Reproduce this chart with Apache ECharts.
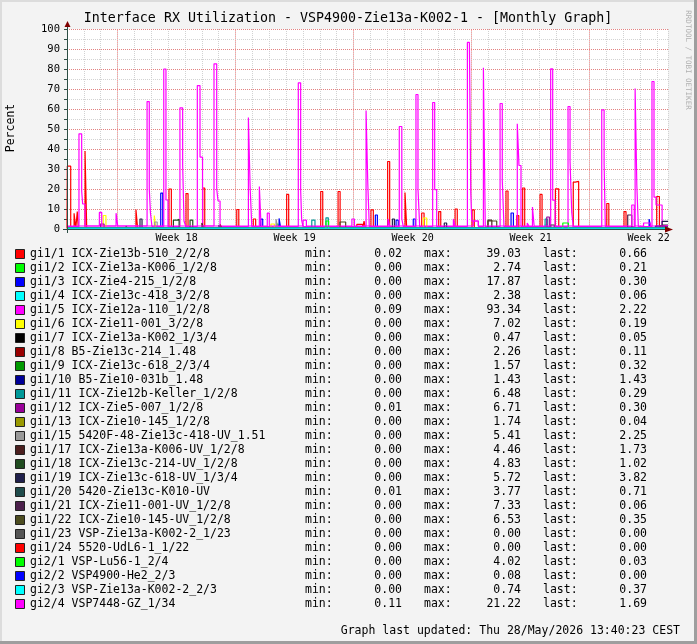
<!DOCTYPE html>
<html><head><meta charset="utf-8">
<script src="https://cdn.jsdelivr.net/npm/echarts@6/dist/echarts.min.js"></script>
<style>html,body{margin:0;padding:0;background:#f3f3f3}#c{width:697px;height:644px}</style>
</head><body><div id="c"></div><script>
// ---------- data (x = days from left edge of plot) ----------
const weekPos = [6.5, 13.5, 20.5, 27.5, 34.5];
const weekLabels = ['Week 18', 'Week 19', 'Week 20', 'Week 21', 'Week 22'];
const majorDays = [3, 10, 17, 24, 31];
const yMajor = [10, 20, 30, 40, 50, 60, 70, 80, 90, 100];

const names = ['gi1/1 ICX-Zie13b-510_2/2/8','gi1/2 ICX-Zie13a-K006_1/2/8','gi1/3 ICX-Zie4-215_1/2/8','gi1/4 ICX-Zie13c-418_3/2/8','gi1/5 ICX-Zie12a-110_1/2/8','gi1/6 ICX-Zie11-001_3/2/8','gi1/7 ICX-Zie13a-K002_1/3/4','gi1/8 B5-Zie13c-214_1.48','gi1/9 ICX-Zie13c-618_2/3/4','gi1/10 B5-Zie10-031b_1.48','gi1/11 ICX-Zie12b-Keller_1/2/8','gi1/12 ICX-Zie5-007_1/2/8','gi1/13 ICX-Zie10-145_1/2/8','gi1/15 5420F-48-Zie13c-418-UV_1.51','gi1/17 ICX-Zie13a-K006-UV_1/2/8','gi1/18 ICX-Zie13c-214-UV_1/2/8','gi1/19 ICX-Zie13c-618-UV_1/3/4','gi1/20 5420-Zie13c-K010-UV','gi1/21 ICX-Zie11-001-UV_1/2/8','gi1/22 ICX-Zie10-145-UV_1/2/8','gi1/23 VSP-Zie13a-K002-2_1/23','gi1/24 5520-UdL6-1_1/22','gi2/1 VSP-Lu56-1_2/4','gi2/2 VSP4900-He2_2/3','gi2/3 VSP-Zie13a-K002-2_2/3','gi2/4 VSP7448-GZ_1/34'];
const colors = ['#FF0000','#00FF00','#0000FF','#00FFFF','#FF00FF','#FFFF00','#000000','#990000','#009900','#000099','#009999','#990099','#999900','#999999','#4C2020','#204C20','#20204C','#204C4C','#4C204C','#4C4C20','#555555','#FF0000','#00FF00','#0000FF','#00FFFF','#FF00FF'];
const minVals = ['0.02','0.00','0.00','0.00','0.09','0.00','0.00','0.00','0.00','0.00','0.00','0.01','0.00','0.00','0.00','0.00','0.00','0.01','0.00','0.00','0.00','0.00','0.00','0.00','0.00','0.11'];
const maxVals = ['39.03','2.74','17.87','2.38','93.34','7.02','0.47','2.26','1.57','1.43','6.48','6.71','1.74','5.41','4.46','4.83','5.72','3.77','7.33','6.53','0.00','0.00','4.02','0.08','0.74','21.22'];
const lastVals = ['0.66','0.21','0.30','0.06','2.22','0.19','0.05','0.11','0.32','1.43','0.29','0.30','0.04','2.25','1.73','1.02','3.82','0.71','0.06','0.35','0.00','0.00','0.03','0.00','0.37','1.69'];

const gi1_1 = [[0,0.3],[0.02,31.4],[0.22,0.3],[0.42,7.9],[0.52,0.3],[0.61,8.7],[0.67,0.3],[1.07,39],[1.17,0.3],[4.09,9.75],[4.19,0.3],[6.05,20],[6.19,0.3],[7.06,17.7],[7.18,0.3],[8.05,20.5],[8.17,0.3],[10.07,9.75],[10.19,0.3],[11.05,5],[11.19,0.3],[13.03,17.3],[13.15,0.3],[15.05,18.75],[15.17,0.3],[16.08,18.75],[16.2,0.3],[17.19,2.3],[17.54,0.3],[17.62,3.9],[17.7,0.3],[18.03,9.6],[18.17,0.3],[19.02,33.75],[19.14,0.3],[20.05,18.2],[20.15,0.3],[21.04,8],[21.18,0.3],[22.05,8.7],[22.17,0.3],[23.02,10],[23.15,0.3],[24.03,9.6],[24.16,0.3],[26.04,19],[26.16,0.3],[26.68,6.7],[26.8,0.3],[27.03,20.5],[27.15,0.3],[28.06,17.3],[28.18,0.3],[28.97,20.1],[29.17,0.3],[30.03,23.4],[30.15,23.8],[30.35,0.3],[32.02,12.75],[32.14,0.3],[33.04,8.7],[33.16,0.3],[34.98,16.25],[35.14,0.66],[35.65,0.66]];
const gi1_2 = [[0,0.2],[5.2,2.5],[5.3,0.2],[12.5,2.7],[12.6,0.2],[22.4,2],[22.5,0.2],[35.65,0.21]];
const gi1_3 = [[0,0.2],[5.56,17.9],[5.68,0.2],[11.49,4.9],[11.61,0.2],[12.58,5.3],[12.68,0.2],[18.29,7],[18.41,0.2],[19.52,4.4],[19.65,0.2],[20.54,5],[20.66,0.2],[26.34,8],[26.48,0.2],[34.53,5],[34.63,0.3],[35.65,0.3]];
const gi1_4 = [[0,0.1],[14.5,2],[14.6,0.1],[28.36,2.3],[28.45,0.1],[35.65,0.06]];
const gi1_5 = [[0,1.2],[0.71,47.6],[0.87,19],[0.93,12.5],[1.07,1.5],[4.75,63.7],[4.88,20.1],[4.95,8],[5.04,1.3],[5.74,80],[5.87,14.5],[5.99,1.2],[6.7,60.6],[6.86,32],[6.94,4],[7.05,1.2],[7.73,71.7],[7.89,35.9],[8.04,1.5],[8.72,82.6],[8.88,20],[8.96,14],[9.08,1.2],[10.76,55.75],[10.86,21.6],[10.96,1.2],[13.72,73.1],[13.86,19.5],[13.92,4.4],[14.0,1.2],[17.74,59.25],[17.84,23.4],[17.93,1.2],[19.71,51.25],[19.86,5],[19.95,1.2],[20.7,67.25],[20.82,20],[20.92,1.2],[21.69,63.25],[21.81,19.7],[21.93,1.2],[23.75,93.3],[23.87,92],[23.95,18],[24.01,4],[24.4,1.2],[24.7,80.6],[24.81,1.2],[25.69,62.75],[25.82,24.25],[25.92,1.2],[26.71,52.6],[26.81,31.75],[26.93,1.2],[28.69,80.1],[28.81,14.4],[28.95,1.2],[29.72,61.25],[29.84,33.9],[29.94,8.3],[30.03,1.2],[31.72,59.6],[31.86,32.9],[31.93,1.2],[33.7,70.25],[33.8,22.1],[33.89,1.2],[34.7,73.75],[34.82,15.9],[34.94,12],[35.3,2.22],[35.65,2.22]];
const gi1_6 = [[0,0.2],[2.15,6.75],[2.31,0.2],[5.18,6.7],[5.26,0.2],[12.1,2.5],[12.3,0.2],[21.14,5.5],[21.34,0.2],[35.65,0.19]];
const gi1_7 = [[0,0.1],[4.3,0.47],[4.4,0.1],[35.65,0.05]];
const gi1_8 = [[0,0.1],[9.1,2.2],[9.2,0.1],[35.65,0.11]];
const gi1_9 = [[0,0.3],[3.5,1.5],[3.6,0.3],[35.65,0.32]];
const gi1_10 = [[0,0.2],[34.9,1.43],[35.65,1.43]];
const gi1_11 = [[0,0.3],[14.52,4.4],[14.71,0.3],[15.36,5.6],[15.5,0.3],[28.36,5],[28.49,0.3],[35.65,0.29]];
const gi1_12 = [[0,0.3],[2.0,2.5],[2.2,0.3],[28.46,6],[28.61,0.3],[35.65,0.3]];
const gi1_13 = [[0,0.1],[16.2,1.7],[16.3,0.1],[35.65,0.04]];
const gi1_15 = [[0,0.3],[5.2,3.5],[5.35,0.3],[12.4,5],[12.5,0.3],[35.3,2.25],[35.65,2.25]];
const gi1_17 = [[0,0.4],[8.0,3],[8.1,0.4],[24.97,4.4],[25.2,0.4],[35.2,1.73],[35.65,1.73]];
const gi1_18 = [[0,0.3],[6.31,4.4],[6.51,4.8],[6.65,0.3],[7.3,4.4],[7.46,0.3],[28.7,2],[28.9,0.3],[35.2,1.02],[35.65,1.02]];
const gi1_19 = [[0,0.3],[4.33,5],[4.45,0.3],[19.3,5],[19.42,0.3],[22.38,3],[22.52,0.3],[35.3,3.82],[35.65,3.82]];
const gi1_20 = [[0,0.5],[9.0,2],[9.1,0.5],[35.65,0.71]];
const gi1_21 = [[0,0.2],[33.26,7],[33.5,0.2],[35.65,0.06]];
const gi1_22 = [[0,0.3],[16.19,3.5],[16.53,0.3],[24.97,4],[25.49,0.3],[35.65,0.35]];
const gi1_23 = [[0,0],[35.65,0]];
const gi1_24 = [[0,0],[35.65,0]];
const gi2_1 = [[0,0.1],[15.36,4],[15.52,0.1],[29.41,3],[29.74,0.1],[35.65,0.03]];
const gi2_2 = [[0,0],[35.65,0]];
const gi2_3 = [[0,0.4],[35.65,0.37]];
const gi2_4 = [[0,1.5],[1.92,8.3],[2.06,1.5],[2.91,7.9],[3.01,1.5],[11.41,21.2],[11.51,1.5],[11.88,7.9],[12.0,1.5],[14.0,4.4],[14.2,1.5],[16.9,5],[17.05,1.5],[19.04,5],[19.14,1.5],[22.92,5],[23.02,1.5],[24.1,4],[24.4,1.5],[27.3,3],[27.4,1.5],[27.61,11],[27.71,1.5],[33.5,12],[33.65,1.5],[34.2,3],[34.6,1.5],[35.3,1.69],[35.65,1.69]];

const seriesData = [gi1_1,gi1_2,gi1_3,gi1_4,gi1_5,gi1_6,gi1_7,gi1_8,gi1_9,gi1_10,gi1_11,gi1_12,gi1_13,gi1_15,gi1_17,gi1_18,gi1_19,gi1_20,gi1_21,gi1_22,gi1_23,gi1_24,gi2_1,gi2_2,gi2_3,gi2_4];

// ---------- chart ----------
const FONT = '"DejaVu Sans Mono", monospace';
const chart = echarts.init(document.getElementById('c'), null, {renderer: 'canvas', width: 697, height: 644});

const series = [{
  type: 'line', data: [], z: 1, silent: true, animation: false,
  markLine: {
    silent: true, symbol: 'none', z: 1, animation: false,
    label: {show: false},
    lineStyle: {color: 'rgba(255,0,0,0.38)', type: [1, 1], width: 1},
    data: majorDays.map(d => ({xAxis: d})).concat(yMajor.map(v => ({yAxis: v})))
  }
}];
names.forEach((n, i) => {
  series.push({
    name: n, type: 'line', step: 'end', data: seriesData[i],
    showSymbol: false, symbol: 'none', silent: true, animation: false, z: 2,
    lineStyle: {width: 1.2, color: colors[i]}, itemStyle: {color: colors[i]}
  });
});

const graphic = [];
// frame shading
graphic.push({type: 'rect', shape: {x: 0, y: 0, width: 697, height: 2}, style: {fill: '#dcdcdc'}, silent: true});
graphic.push({type: 'rect', shape: {x: 0, y: 0, width: 2, height: 644}, style: {fill: '#dcdcdc'}, silent: true});
graphic.push({type: 'rect', shape: {x: 0, y: 641, width: 697, height: 3}, style: {fill: '#9e9e9e'}, silent: true});
graphic.push({type: 'rect', shape: {x: 694, y: 0, width: 3, height: 644}, style: {fill: '#9e9e9e'}, silent: true});
// title
graphic.push({type: 'text', x: 348, y: 19, style: {text: 'Interface RX Utilization - VSP4900-Zie13a-K002-1 - [Monthly Graph]', font: '13.3px ' + FONT, fill: '#000', align: 'center', verticalAlign: 'middle'}});
// watermark
graphic.push({type: 'text', x: 688, y: 60, rotation: -Math.PI / 2, style: {text: 'RRDTOOL / TOBI OETIKER', font: '7.5px ' + FONT, fill: '#b0b0b0', align: 'center', verticalAlign: 'middle'}});
// unit
graphic.push({type: 'text', x: 11, y: 128, rotation: Math.PI / 2, style: {text: 'Percent', font: '11.5px ' + FONT, fill: '#000', align: 'center', verticalAlign: 'middle'}});
// axis extensions and arrows
graphic.push({type: 'line', shape: {x1: 63, y1: 229.5, x2: 668, y2: 229.5}, style: {stroke: '#2C4D43', lineWidth: 1}, z: 10});
graphic.push({type: 'line', shape: {x1: 67.5, y1: 233, x2: 67.5, y2: 26}, style: {stroke: '#2C4D43', lineWidth: 1}, z: 10});
graphic.push({type: 'polygon', shape: {points: [[665, 226.5], [673, 229.5], [665, 232.5]]}, style: {fill: '#7F0000'}, z: 10});
graphic.push({type: 'polygon', shape: {points: [[64.5, 27], [67.5, 21], [70.5, 27]]}, style: {fill: '#7F0000'}, z: 10});
// legend
names.forEach((n, i) => {
  const y = 254 + 14 * i;
  graphic.push({type: 'rect', shape: {x: 15.5, y: y - 4.5, width: 9, height: 9}, style: {fill: colors[i], stroke: '#222', lineWidth: 1}});
  const f = '11.5px ' + FONT;
  graphic.push({type: 'text', x: 30, y: y, style: {text: n, font: f, fill: '#000', align: 'left', verticalAlign: 'middle'}});
  graphic.push({type: 'text', x: 305, y: y, style: {text: 'min:', font: f, fill: '#000', align: 'left', verticalAlign: 'middle'}});
  graphic.push({type: 'text', x: 402, y: y, style: {text: minVals[i], font: f, fill: '#000', align: 'right', verticalAlign: 'middle'}});
  graphic.push({type: 'text', x: 424, y: y, style: {text: 'max:', font: f, fill: '#000', align: 'left', verticalAlign: 'middle'}});
  graphic.push({type: 'text', x: 521, y: y, style: {text: maxVals[i], font: f, fill: '#000', align: 'right', verticalAlign: 'middle'}});
  graphic.push({type: 'text', x: 543, y: y, style: {text: 'last:', font: f, fill: '#000', align: 'left', verticalAlign: 'middle'}});
  graphic.push({type: 'text', x: 647, y: y, style: {text: lastVals[i], font: f, fill: '#000', align: 'right', verticalAlign: 'middle'}});
});
graphic.push({type: 'text', x: 680, y: 631, style: {text: 'Graph last updated: Thu 28/May/2026 13:40:23 CEST', font: '11.5px ' + FONT, fill: '#000', align: 'right', verticalAlign: 'middle'}});

chart.setOption({
  animation: false,
  backgroundColor: '#f3f3f3',
  grid: {left: 67, top: 29, width: 601, height: 200, show: true, backgroundColor: '#ffffff', borderWidth: 0},
  xAxis: {
    type: 'value', min: 0, max: 35.65, interval: 1,
    axisLine: {show: false},
    axisTick: {show: false},
    splitLine: {show: true, lineStyle: {color: '#d2d2d2', type: [1, 1], width: 1}},
    axisLabel: {
      customValues: weekPos, margin: 4, color: '#000', fontFamily: FONT, fontSize: 10,
      formatter: v => { const k = weekPos.findIndex(p => Math.abs(p - v) < 0.01); return k >= 0 ? weekLabels[k] : ''; }
    }
  },
  yAxis: {
    type: 'value', min: 0, max: 100, interval: 5,
    axisLine: {show: false},
    axisTick: {show: true, length: 3, lineStyle: {color: '#2C4D43'}},
    splitLine: {show: true, lineStyle: {color: '#d2d2d2', type: [1, 1], width: 1}},
    axisLabel: {margin: 7, color: '#000', fontFamily: FONT, fontSize: 10.5, formatter: v => (v % 10 === 0 ? String(v) : '')}
  },
  series: series,
  graphic: graphic
});
</script></body></html>
